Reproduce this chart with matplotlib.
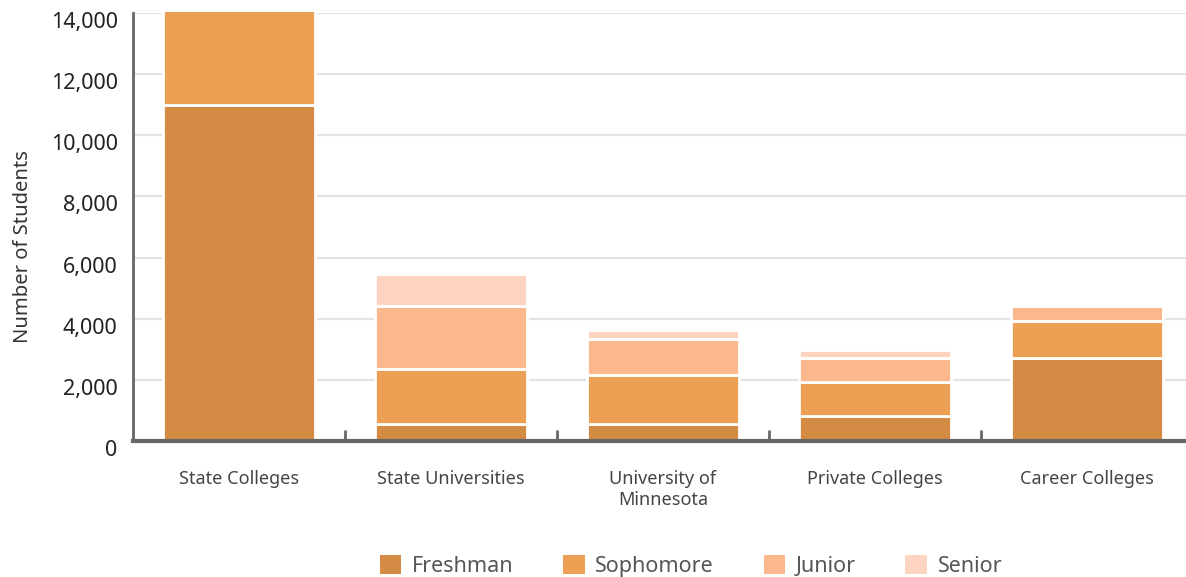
import numpy as np
import matplotlib.pyplot as plt
import matplotlib.transforms as mtransforms
from matplotlib.patches import Patch

plt.rcParams['font.family'] = ['Noto Sans', 'DejaVu Sans']

# ===== DATA =====
categories = ['State Colleges', 'State Universities', 'University of\nMinnesota',
              'Private Colleges', 'Career Colleges']
freshman = [11000, 570, 560, 820, 2720]
sophomore = [3100, 1780, 1600, 1120, 1200]
junior = [0, 2060, 1180, 760, 480]
senior = [0, 1050, 290, 270, 0]

series_names = ['Freshman', 'Sophomore', 'Junior', 'Senior']
colors = ['#D48C45', '#ECA053', '#FAB88C', '#FED4C0']
yticks = [0, 2000, 4000, 6000, 8000, 10000, 12000, 14000]

# ===== PLOT =====
fig = plt.figure(figsize=(11.86, 5.77), dpi=100)
ax = fig.add_axes([133/1186, 136/577, 1060/1186, 428/577])

x = np.arange(len(categories))
bottom = np.zeros(len(categories))
for name, vals, col in zip(series_names, [freshman, sophomore, junior, senior], colors):
    vals = np.array(vals, dtype=float)
    ax.bar(x, vals, width=0.715, bottom=bottom, color=col,
           edgecolor='white', linewidth=2, zorder=2, clip_on=False)
    bottom += vals

ax.set_xlim(-0.5, len(categories) - 0.5)
ax.set_ylim(0, 14000)
ax.set_yticks(yticks)
ax.set_yticklabels([f'{v:,}' for v in yticks], fontsize=15.5, color='#222222')
ax.tick_params(axis='y', length=0, pad=11)
# labels sit a little below their gridlines in the original
shift = mtransforms.ScaledTranslation(0, -0.07, fig.dpi_scale_trans)
for lab in ax.get_yticklabels():
    lab.set_transform(lab.get_transform() + shift)

# category labels centred, tick marks between categories
ax.set_xticks(x)
ax.set_xticklabels(categories, fontsize=13, color='#444444', va='top')
ax.tick_params(axis='x', which='major', length=0, pad=21)
ax.set_xticks(np.arange(len(categories) - 1) + 0.5, minor=True)
ax.tick_params(axis='x', which='minor', direction='in', length=8, width=2,
               color='#666666')

ax.grid(axis='y', color='#e3e3e3', linewidth=1.5, zorder=0)
ax.set_axisbelow(True)

for side in ['top', 'right']:
    ax.spines[side].set_visible(False)
ax.spines['left'].set_color('#666666')
ax.spines['left'].set_linewidth(2)
ax.spines['bottom'].set_color('#666666')
ax.spines['bottom'].set_linewidth(3)

ax.set_ylabel('Number of Students', fontsize=14.5, color='#333333')
ax.yaxis.set_label_coords(-0.094, 0.455)

handles = [Patch(facecolor=c, edgecolor='none') for c in colors]
leg = fig.legend(handles, series_names, loc='center', ncol=4,
                 bbox_to_anchor=(691/1186, 1 - 566/577), frameon=False,
                 fontsize=15.5, handlelength=1.0, handleheight=1.0,
                 columnspacing=2.3, handletextpad=0.5)
for t in leg.get_texts():
    t.set_color('#555555')

fig.savefig('out.png', dpi=100, facecolor='white')
